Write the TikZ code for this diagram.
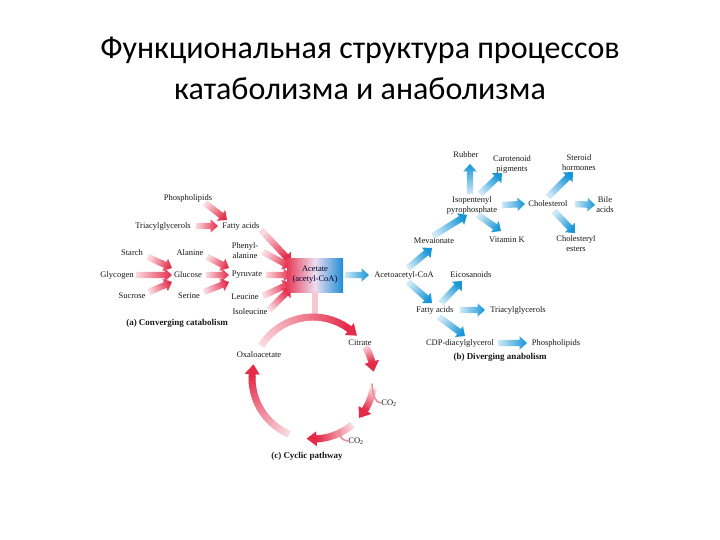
\documentclass[tikz,border=0pt]{standalone}
\usepackage{fontspec}
\setmainfont{Liberation Serif}
\newfontfamily\titlefont{Carlito}
\usetikzlibrary{calc}
\definecolor{rtail}{RGB}{250,216,222}
\definecolor{rhead}{RGB}{228,44,74}
\definecolor{btail}{RGB}{205,232,246}
\definecolor{bhead}{RGB}{22,150,214}
\definecolor{boxred}{RGB}{232,60,88}
\definecolor{boxblue}{RGB}{30,140,215}
\definecolor{boxmid}{RGB}{236,222,238}
\definecolor{rlink}{RGB}{246,200,210}
\definecolor{txt}{RGB}{25,25,25}
% fat gradient arrow: tail, head, colour prefix
\newcommand\farrow[3]{%
  \coordinate (fat) at (#1);
  \coordinate (fah) at (#2);
  \coordinate (faq) at ($(fah)!7.5pt!(fat)$);
  \pgfmathanglebetweenpoints{\pgfpointanchor{fat}{center}}{\pgfpointanchor{fah}{center}}%
  \pgfmathsetmacro\faang{\pgfmathresult-90}%
  \shade[bottom color=#3tail, top color=#3head, shading angle=\faang]
    ($(fat)!3.2pt!90:(fah)$) -- ($(faq)!3.2pt!90:(fah)$) -- ($(faq)!6.8pt!90:(fah)$)
    -- (fah) -- ($(faq)!6.8pt!-90:(fah)$) -- ($(faq)!3.2pt!-90:(fah)$)
    -- ($(fat)!3.2pt!-90:(fah)$) -- cycle;
}
% arc of the cycle with gradient and arrow head (angles decreasing)
\newcommand\cycarc[2]{%
  \foreach \k in {0,...,23}{%
    \pgfmathsetmacro\arcA{(#1)+((#2)-(#1))*\k/24}%
    \pgfmathsetmacro\arcB{(#1)+((#2)-(#1))*(\k+1.3)/24}%
    \pgfmathsetmacro\arcC{100*\k/23}%
    \draw[line width=7pt, draw=rhead!\arcC!rtail] (\arcA:61) arc[start angle=\arcA, end angle=\arcB, radius=61];
  }%
  \fill[rhead] (#2:53.5) -- (#2:68.5) -- ({#2-9.4}:61) -- cycle;
}
\begin{document}
\begin{tikzpicture}[x=1pt,y=-1pt,
  lbl/.style={font=\fontsize{8.5}{10}\selectfont, text=txt, inner sep=0.5pt, align=center},
  captxt/.style={font=\fontsize{9}{10.5}\selectfont\bfseries, text=txt, inner sep=0.5pt},
  ttl/.style={font=\titlefont\fontsize{32}{38}\selectfont, text=black, inner sep=0pt}]
\useasboundingbox (0,0) rectangle (720,540);
\fill[white] (0,0) rectangle (720,540);

% title
\node[ttl] (title1) at (360,50) {Функциональная структура процессов};
\node[ttl] (title2) at (360,89) {катаболизма и анаболизма};

% (a) converging catabolism
\node[lbl] (phos) at (188,198) {Phospholipids};
\node[lbl] (tag) at (163,226) {Triacylglycerols};
\node[lbl] (fa) at (241,226) {Fatty acids};
\node[lbl] (starch) at (132,253) {Starch};
\node[lbl] (alan) at (190,253) {Alanine};
\node[lbl] (phe) at (245,251) {Phenyl-\\alanine};
\node[lbl] (glyc) at (117,275) {Glycogen};
\node[lbl] (gluc) at (188,275) {Glucose};
\node[lbl] (pyr) at (247,275) {Pyruvate};
\node[lbl] (suc) at (132,296) {Sucrose};
\node[lbl] (ser) at (189,296) {Serine};
\node[lbl] (leu) at (245,297) {Leucine};
\node[lbl] (ile) at (250,312) {Isoleucine};
\node[captxt] (capA) at (177,323) {(a) Converging catabolism};

\farrow{$(phos)+(17,5)$}{$(fa)+(-14,-6)$}{r}
\farrow{$(tag)+(33,0)$}{$(fa)+(-23,0)$}{r}
\farrow{$(starch)+(16,4)$}{$(gluc)+(-16,-7)$}{r}
\farrow{$(glyc)+(19,0)$}{$(gluc)+(-16,0)$}{r}
\farrow{$(suc)+(17,-4)$}{$(gluc)+(-16,7)$}{r}
\farrow{$(alan)+(17,4)$}{$(pyr)+(-18,-7)$}{r}
\farrow{$(gluc)+(18,0)$}{$(pyr)+(-18,0)$}{r}
\farrow{$(ser)+(15,-4)$}{$(pyr)+(-18,7)$}{r}

% acetyl-CoA box
\coordinate (boxc) at (315,275);
\farrow{$(fa)+(20,4)$}{$(boxc)+(-24,-13)$}{r}
\farrow{$(phe)+(18,1)$}{$(boxc)+(-24,-8)$}{r}
\farrow{$(pyr)+(19,0)$}{$(boxc)+(-24,0)$}{r}
\farrow{$(leu)+(18,-1)$}{$(boxc)+(-24,8)$}{r}
\farrow{$(ile)+(19,-2)$}{$(boxc)+(-24,13)$}{r}
\node[lbl, minimum width=56pt, minimum height=34pt, left color=boxred, right color=boxblue, middle color=boxmid, text=black!80!blue] (acet) at (boxc) {Acetate\\(acetyl-CoA)};

% link to cycle
\coordinate (cyctop) at (313,318);
\draw[line width=6pt, draw=rlink] (acet.south) -- (acet.south |- cyctop);

% (c) cycle
\begin{scope}[shift={(313,378)}, y=1pt]
  \cycarc{148}{53.4}
  \cycarc{31}{15.4}
  \cycarc{-10}{-31.6}
  \cycarc{-50}{-86.6}
  \cycarc{-113}{-183.6}
\end{scope}
\node[lbl] (cit) at (360,343) {Citrate};
\node[lbl] (oxa) at (259,355) {Oxaloacetate};
\node[lbl] (co2a) at (389,403) {CO\textsubscript{2}};
\node[lbl] (co2b) at (356,441) {CO\textsubscript{2}};
\draw[line width=1.6pt, draw=rhead!45!rtail, line cap=round] (372,384) .. controls (373,396) and (375,402) .. (co2a.west);
\draw[line width=1.6pt, draw=rhead!45!rtail, line cap=round] (339,430) .. controls (340,438) and (342,440) .. (co2b.west);
\node[captxt] (capC) at (307,456) {(c) Cyclic pathway};

% (b) diverging anabolism
\node[lbl] (acac) at (404,275) {Acetoacetyl-CoA};
\farrow{$(acet.east)+(2,0)$}{$(acac)+(-35,0)$}{b}
\node[lbl] (mev) at (434,241) {Mevalonate};
\node[lbl] (fa2) at (435,310) {Fatty acids};
\node[lbl] (eico) at (471,275) {Eicosanoids};
\node[lbl] (tag2) at (518,310) {Triacylglycerols};
\node[lbl] (cdp) at (460,343) {CDP-diacylglycerol};
\node[lbl] (pl2) at (556,343) {Phospholipids};
\node[captxt] (capB) at (500,357) {(b) Diverging anabolism};
\node[lbl] (ipp) at (472,205) {Isopentenyl\\pyrophosphate};
\node[lbl] (rub) at (466,155) {Rubber};
\node[lbl] (car) at (512,164) {Carotenoid\\pigments};
\node[lbl] (chol) at (548,204) {Cholesterol};
\node[lbl] (vitk) at (507,240) {Vitamin K};
\node[lbl] (ster) at (579,163) {Steroid\\hormones};
\node[lbl] (bile) at (605,205) {Bile\\acids};
\node[lbl] (est) at (576,244) {Cholesteryl\\esters};

\farrow{$(acac)+(4,-7)$}{$(mev)+(-2,7)$}{b}
\farrow{$(acac)+(4,7)$}{$(fa2)+(-3,-7)$}{b}
\farrow{$(fa2)+(6,-7)$}{$(eico)+(-9,6)$}{b}
\farrow{$(fa2)+(25,0)$}{$(tag2)+(-33,0)$}{b}
\farrow{$(fa2)+(4,7)$}{$(cdp)+(5,-7)$}{b}
\farrow{$(cdp)+(38,0)$}{$(pl2)+(-29,0)$}{b}
\farrow{$(mev)+(-1,-5)$}{$(ipp)+(-5,10)$}{b}
\farrow{$(ipp)+(-2,-11)$}{$(rub)+(4,9)$}{b}
\farrow{$(ipp)+(8,-11)$}{$(car)+(-10,9)$}{b}
\farrow{$(ipp)+(30,0)$}{$(chol)+(-23,0)$}{b}
\farrow{$(ipp)+(6,10)$}{$(vitk)+(-6,-9)$}{b}
\farrow{$(chol)+(0,-7)$}{$(ster)+(-6,9)$}{b}
\farrow{$(chol)+(27,0)$}{$(bile)+(-10,0)$}{b}
\farrow{$(chol)+(6,7)$}{$(est)+(-1,-11)$}{b}
\end{tikzpicture}
\end{document}
